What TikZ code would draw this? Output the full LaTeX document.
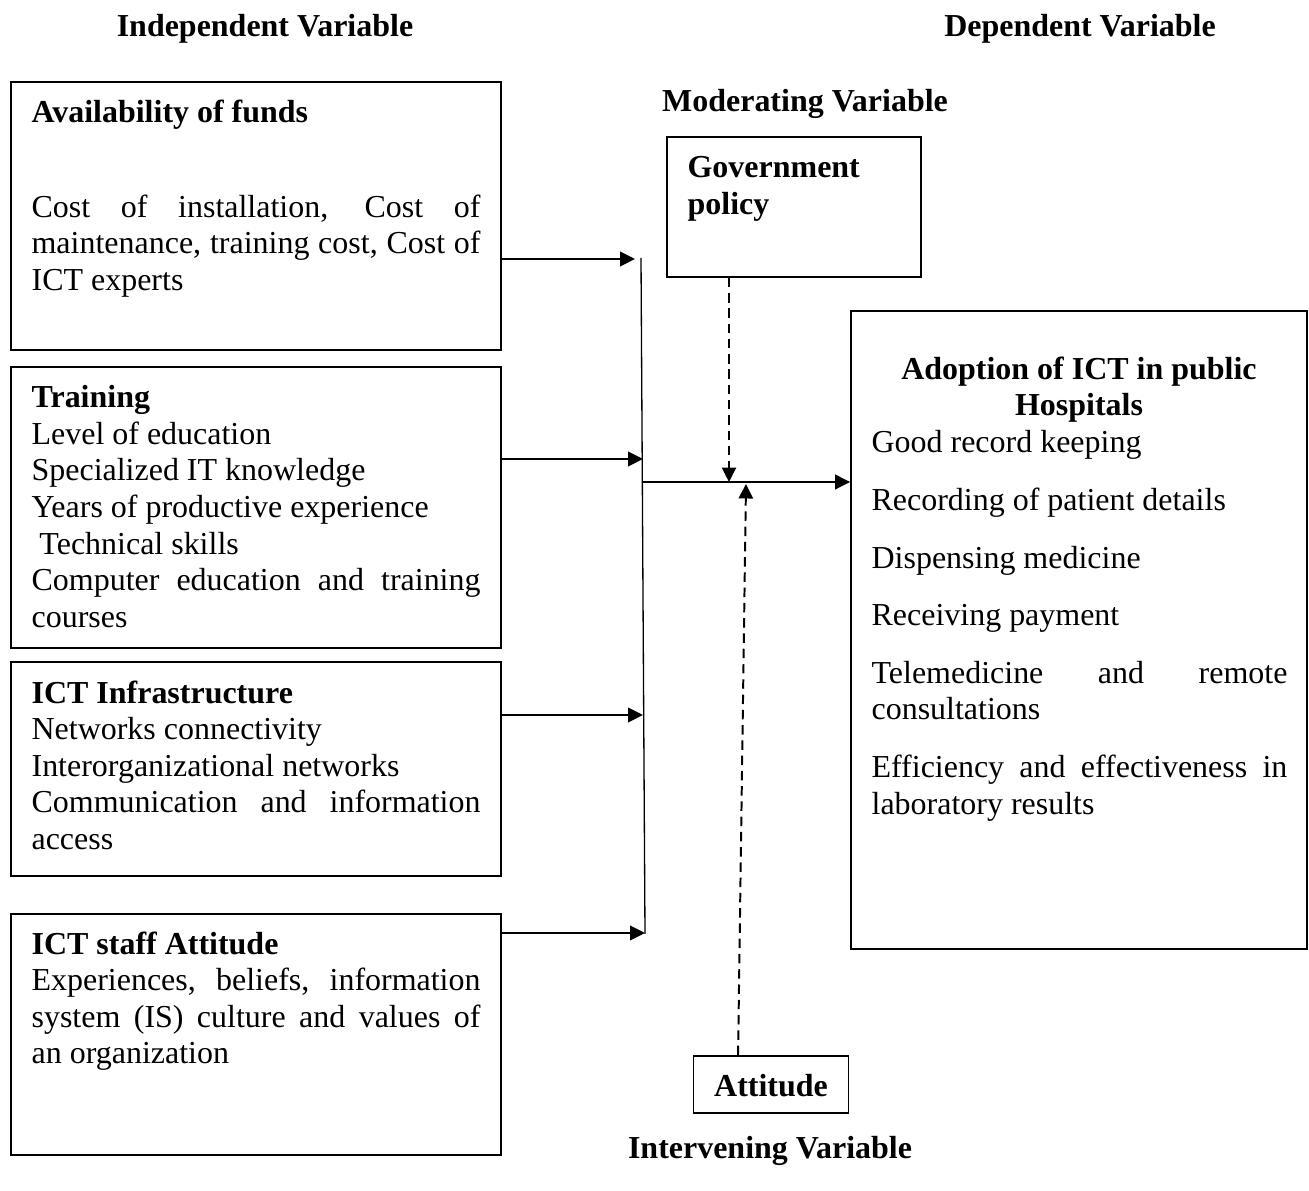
\documentclass[tikz,border=0pt]{standalone}
\usepackage{fontspec}
\setmainfont{Liberation Serif}
\usetikzlibrary{arrows.meta, calc, fit}
\newcommand{\bodyfont}{\fontsize{12.15}{13.9}\selectfont}
\setlength{\parindent}{0pt}
\hyphenpenalty=10000
\exhyphenpenalty=10000
\tolerance=9999

\begin{document}
\begin{tikzpicture}[
    x=0.38pt, y=-0.38pt,
    box/.style={draw, line width=0.7pt, inner sep=0pt},
    txt/.style={anchor=north west, inner sep=0pt, text width=170.6pt,
                align=justify, font=\bodyfont},
    head/.style={font=\bodyfont\bfseries, inner sep=0pt},
    arr/.style={-{Triangle[length=5.7pt,width=5.6pt]}, line width=0.7pt},
    dasharr/.style={-{Triangle[length=5.5pt,width=5.4pt]}, line width=0.75pt,
                    dash pattern=on 3.6pt off 2.2pt}
  ]
  \useasboundingbox (0,0) rectangle (1309,1191);
  % -- headings --
  \node[head] (indep) at (265,29) {Independent Variable};
  \node[head] (dep) at (1080,29) {Dependent Variable};
  \node[head] (moder) at (805,104) {Moderating Variable};
  \node[head] (interv) at (770,1151) {Intervening Variable};
  % -- independent variables --
  \node[box, fit={(11,82) (501,350)}] (funds) {};
  \node[txt, font=\bodyfont\bfseries] (fundshead) at ($(funds.north west)+(21,18)$)
    {Availability of funds};
  \node[txt] (fundsbody) at ($(funds.north west)+(21,113)$)
    {Cost of installation, Cost of maintenance, training cost, Cost of ICT experts};
  \node[box, fit={(11,367) (501,648)}] (training) {};
  \node[txt] (trainingtxt) at ($(training.north west)+(21,19)$)
    {{\bfseries Training}\par Level of education\par Specialized IT knowledge\par
     Years of productive experience\par \hspace*{3pt}Technical skills\par
     Computer education and training courses};
  \node[box, fit={(11,662) (501,876)}] (infra) {};
  \node[txt] (infratxt) at ($(infra.north west)+(21,19)$)
    {{\bfseries ICT Infrastructure}\par Networks connectivity\par
     Interorganizational networks\par Communication and information access};
  \node[box, fit={(11,914) (501,1155)}] (staff) {};
  \node[txt] (stafftxt) at ($(staff.north west)+(21,18)$)
    {{\bfseries ICT staff Attitude}\par Experiences, beliefs, information
     system (IS) culture and values of\linebreak an organization};
  % -- moderating / intervening --
  \node[box, fit={(667,137) (921,277)}] (policy) {};
  \node[txt, text width=80.6pt, align=left, font=\bodyfont\bfseries] (policytxt)
    at ($(policy.north west)+(21,20)$) {Government policy};
  \node[box, minimum width=58.9pt, minimum height=21.7pt, text height=9.5pt,
        text depth=0pt, font=\bodyfont\bfseries] (attitude) at (771,1084.5) {Attitude};
  % -- dependent variable --
  \node[box, fit={(851,311) (1307,949)}] (adopt) {};
  \node[head, anchor=north, align=center] (adopthead) at ($(adopt.north)+(0,46)$)
    {Adoption of ICT in public\\Hospitals};
  \node[txt, text width=158pt] (adoptbody) at ($(adopt.north west)+(21,120)$)
    {\setlength{\parskip}{8pt}Good record keeping\par Recording of patient details\par
     Dispensing medicine\par Receiving payment\par
     Telemedicine and remote consultations\par
     Efficiency and effectiveness in laboratory results};
  % -- connectors --
  \coordinate (bustop) at (641,258);
  \coordinate (busbot) at (645,934);
  \draw[line width=0.5pt] (bustop) -- (busbot);
  \coordinate (inA) at (635,259);
  \coordinate (inB) at (643,459);
  \coordinate (inC) at (643,715);
  \coordinate (inD) at (645,933);
  \draw[arr] (funds.east |- inA) -- (inA);
  \draw[arr] (training.east |- inB) -- (inB);
  \draw[arr] (infra.east |- inC) -- (inC);
  \draw[arr] (staff.east |- inD) -- (inD);
  \coordinate (junc) at (643,482);
  \draw[arr] (junc) -- (junc -| adopt.west);
  \coordinate (modin) at (729,482);
  \draw[dasharr] (policy.south -| modin) -- (modin);
  \coordinate (intin) at (746,484);
  \draw[dasharr] ($(attitude.north west)!0.29!(attitude.north east)$) -- (intin);
\end{tikzpicture}
\end{document}
